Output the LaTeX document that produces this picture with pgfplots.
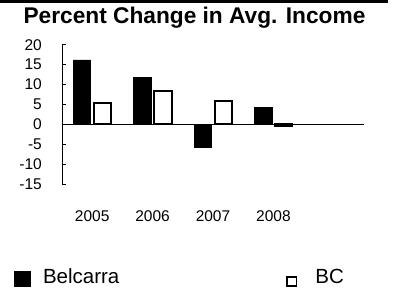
\documentclass[border=0pt]{standalone}
\usepackage{fontspec}
\setmainfont{Liberation Sans}
\usepackage{pgfplots}
\pgfplotsset{compat=1.18}
\begin{document}
\begin{tikzpicture}
\useasboundingbox (0bp,0bp) rectangle (393bp,288bp);
\fill[black] (0bp,285bp) rectangle (388bp,288bp);
\node[anchor=base, inner sep=0pt, font=\bfseries\fontsize{22.7bp}{26bp}\selectfont] at (194.5bp,264bp) {Percent Change in Avg. Income};
\begin{axis}[
  at={(62bp,103.7bp)}, anchor=south west,
  width=302bp, height=139.6bp, scale only axis,
  xmin=-0.5, xmax=4.5, ymin=-15, ymax=20,
  axis y line*=left, axis x line*=middle,
  axis line style={black, line width=0.8bp},
  ybar=3bp, bar width=17.5bp,
  xtick={0,1,2,3}, xticklabels={2005,2006,2007,2008},
  xtick style={draw=none},
  xticklabel style={anchor=center, inner sep=0pt, yshift=-91.7bp, font=\fontsize{15.5bp}{18bp}\selectfont},
  ytick={-15,-10,-5,0,5,10,15,20},
  tick align=inside, major tick length=4.3bp,
  ytick style={black, line width=0.8bp},
  yticklabel style={anchor=east, inner sep=0pt, xshift=-20bp, font=\fontsize{15.5bp}{18bp}\selectfont},
  /pgf/number format/assume math mode=true,
  clip=false,
  legend columns=2,
  legend style={draw=none, fill=none, inner sep=0pt, outer sep=0pt,
    at={(axis description cs:-0.15894,-0.7357)}, anchor=south west,
    cells={anchor=base west}, nodes={inner sep=0pt},
    font=\fontsize{20.5bp}{24bp}\selectfont,
    /tikz/every even column/.append style={column sep=167bp}},
]
\addplot[fill=black, draw=black, line width=0.5bp,
  legend image code/.code={\path[draw=none, fill=black] (0bp,-4bp) rectangle (17bp,12bp); \path[draw=none, fill=none] (0bp,0bp) -- (29bp,0bp);}]
  coordinates {(0,16.2) (1,11.9) (2,-5.6) (3,4.35)};
\addlegendentry{Belcarra}
\addplot[fill=white, draw=black, line width=2bp,
  legend image code/.code={\path[draw=black, fill=white, line width=1.7bp] (0.85bp,-3.15bp) rectangle (10.15bp,6.15bp); \path[draw=none, fill=none] (0bp,0bp) -- (29bp,0bp);}]
  coordinates {(0,5.5) (1,8.3) (2,5.85) (3,-0.4)};
\addlegendentry{BC}
\end{axis}
\end{tikzpicture}
\end{document}
